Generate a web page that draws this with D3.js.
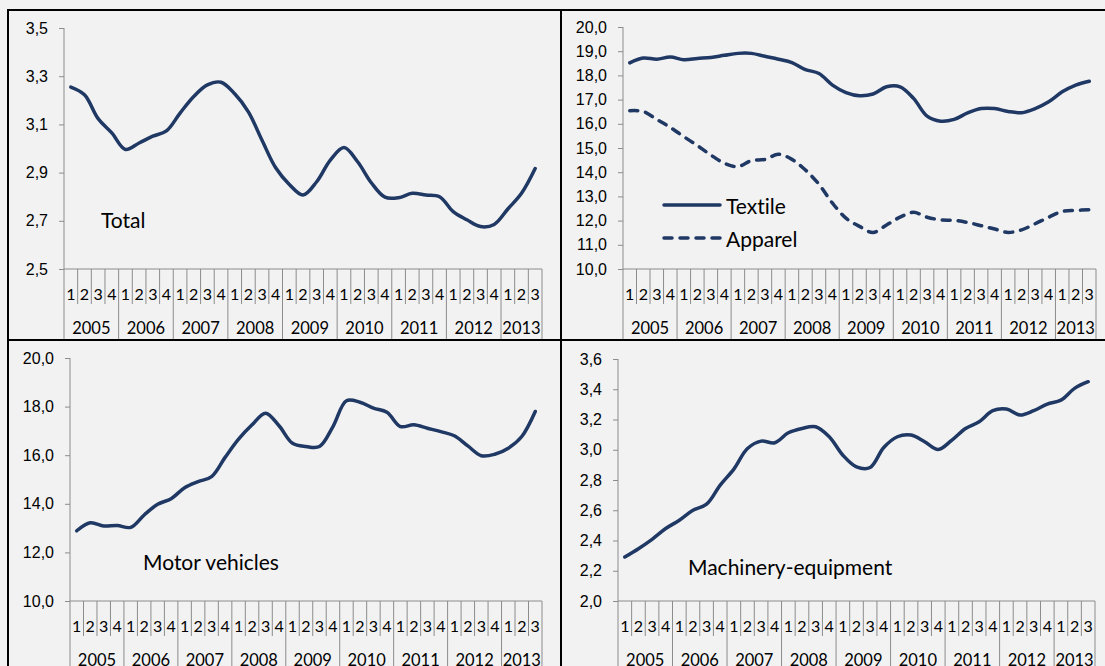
<!DOCTYPE html>
<html>
<head>
<meta charset="utf-8">
<script src="https://cdn.jsdelivr.net/npm/d3@7"></script>
<style>
  body { margin: 0; background: #f2f2f2; }
  svg { display: block; font-family: Lato, "Open Sans", sans-serif; font-variant-ligatures: none; }
  .axis path, .axis line { stroke: #8c8c8c; }
  .axis text { fill: #000; font-size: 16px; }
</style>
</head>
<body>
<div id="charts"></div>
<script>
// quarters 2005Q1 .. 2013Q3
var years = [2005, 2006, 2007, 2008, 2009, 2010, 2011, 2012, 2013];
var quartersPerYear = [4, 4, 4, 4, 4, 4, 4, 4, 3];

var totalShare = [3.255, 3.223, 3.124, 3.065, 2.996, 3.023, 3.051, 3.073, 3.147, 3.216,
  3.264, 3.275, 3.227, 3.152, 3.034, 2.920, 2.851, 2.807, 2.862, 2.952,
  3.004, 2.945, 2.858, 2.798, 2.796, 2.814, 2.807, 2.800, 2.738, 2.704,
  2.676, 2.685, 2.749, 2.814, 2.917];

var textileShare = [18.52, 18.72, 18.67, 18.76, 18.65, 18.70, 18.74, 18.83, 18.91, 18.91,
  18.79, 18.67, 18.53, 18.24, 18.08, 17.60, 17.29, 17.16, 17.23, 17.53,
  17.53, 17.05, 16.32, 16.11, 16.18, 16.45, 16.63, 16.63, 16.51, 16.46,
  16.63, 16.91, 17.32, 17.60, 17.76];

var apparelShare = [16.54, 16.51, 16.18, 15.85, 15.47, 15.10, 14.71, 14.37, 14.23, 14.48,
  14.53, 14.74, 14.53, 14.09, 13.50, 12.72, 12.10, 11.76, 11.51, 11.82,
  12.14, 12.34, 12.14, 12.03, 12.01, 11.92, 11.79, 11.65, 11.51, 11.62,
  11.87, 12.14, 12.38, 12.42, 12.45];

var motorShare = [12.89, 13.22, 13.09, 13.11, 13.03, 13.54, 13.98, 14.21, 14.66, 14.91,
  15.12, 15.91, 16.66, 17.25, 17.73, 17.21, 16.49, 16.36, 16.36, 17.18,
  18.24, 18.18, 17.94, 17.77, 17.18, 17.25, 17.11, 16.97, 16.80, 16.38,
  15.98, 16.04, 16.29, 16.77, 17.80];

var machineryShare = [2.291, 2.346, 2.408, 2.479, 2.534, 2.600, 2.640, 2.766, 2.872, 3.008,
  3.057, 3.046, 3.112, 3.141, 3.152, 3.086, 2.964, 2.887, 2.883, 3.015,
  3.086, 3.097, 3.053, 3.002, 3.064, 3.141, 3.185, 3.258, 3.269, 3.229,
  3.258, 3.302, 3.328, 3.406, 3.450];

// category list built from years and quarters
var categories = [];
years.forEach((y, i) => {
  for (let q = 1; q <= quartersPerYear[i]; ++q) categories.push({year: y, q: q, key: y + "Q" + q});
});

var locale = d3.formatLocale({decimal: ",", thousands: ".", grouping: [3], currency: ["", ""]});
var fmt = locale.format(".1f");

var W = 1105, H = 666;
var lineColor = "#1f3864";

var svg = d3.select("#charts").append("svg")
  .attr("width", W)
  .attr("height", H);

svg.append("rect").attr("width", W).attr("height", H).attr("fill", "#f2f2f2");

function drawPanel(p)
{
  var x = d3.scaleBand().domain(categories.map(d => d.key)).range([p.left, p.right]);
  var y = d3.scaleLinear().domain(p.domain).range([p.bottom, p.top]);

  var ticks = d3.range(p.domain[0], p.domain[1] + p.step / 2, p.step);

  var g = svg.append("g");

  // y axis
  g.append("g")
    .attr("class", "axis")
    .attr("transform", "translate(" + p.left + ",0)")
    .call(d3.axisLeft(y).tickValues(ticks).tickFormat(fmt).tickSize(5).tickPadding(11))
    .call(a => a.select(".domain").attr("d", "M0," + p.top + "V" + p.bottom));

  // x axis line
  g.append("line")
    .attr("x1", p.left).attr("x2", p.right)
    .attr("y1", p.bottom).attr("y2", p.bottom)
    .attr("stroke", "#8c8c8c");

  // quarter separators
  var bw = x.bandwidth();
  g.selectAll(".qsep").data(categories)
    .enter().append("line")
    .attr("x1", d => x(d.key)).attr("x2", d => x(d.key))
    .attr("y1", p.bottom)
    .attr("y2", d => d.q == 1 ? p.edge : p.bottom + 35)
    .attr("stroke", "#8c8c8c");
  g.append("line")
    .attr("x1", p.right).attr("x2", p.right)
    .attr("y1", p.bottom).attr("y2", p.edge)
    .attr("stroke", "#8c8c8c");

  // quarter labels
  g.selectAll(".ql").data(categories)
    .enter().append("text")
    .attr("x", d => x(d.key) + bw / 2)
    .attr("y", p.bottom + 24)
    .attr("text-anchor", "middle")
    .attr("dominant-baseline", "central")
    .style("font-size", "16px")
    .text(d => d.q);

  // year labels
  g.selectAll(".yl").data(years)
    .enter().append("text")
    .attr("x", (d, i) => {
      var first = x(d + "Q1");
      return first + bw * quartersPerYear[i] / 2;
    })
    .attr("y", p.bottom + 59)
    .attr("text-anchor", "middle")
    .attr("dominant-baseline", "central")
    .style("font-size", "16.5px")
    .text(d => d);

  var valueline = d3.line()
    .x((d, i) => x(categories[i].key) + bw / 2)
    .y(d => y(d))
    .curve(d3.curveCatmullRom);

  p.series.forEach(s => {
    g.append("path")
      .datum(s.values)
      .attr("fill", "none")
      .attr("stroke", lineColor)
      .attr("stroke-width", 3.5)
      .attr("stroke-linejoin", "round")
      .attr("stroke-linecap", "round")
      .attr("stroke-dasharray", s.dash || null)
      .attr("d", valueline);
  });

  if (p.label) {
    g.append("text")
      .attr("x", p.label.x).attr("y", p.label.y)
      .attr("dominant-baseline", "central")
      .style("font-size", "21px")
      .text(p.label.text);
  }

  if (p.legend) {
    p.legend.forEach(l => {
      g.append("line")
        .attr("x1", l.x).attr("x2", l.x + 56)
        .attr("y1", l.y).attr("y2", l.y)
        .attr("stroke", lineColor)
        .attr("stroke-width", 3.5)
        .attr("stroke-linecap", "round")
        .attr("stroke-dasharray", l.dash || null);
      g.append("text")
        .attr("x", l.x + 62).attr("y", l.y)
        .attr("dominant-baseline", "central")
        .style("font-size", "21px")
        .text(l.text);
    });
  }
}

drawPanel({left: 64, right: 542, top: 28, bottom: 269, edge: 340, domain: [2.5, 3.5], step: 0.2,
  series: [{values: totalShare}], label: {x: 101, y: 219, text: "Total"}});

drawPanel({left: 623, right: 1096, top: 27, bottom: 269, edge: 340, domain: [10, 20], step: 1,
  series: [{values: textileShare}, {values: apparelShare, dash: "8,8"}],
  legend: [{x: 664, y: 205, text: "Textile"}, {x: 664, y: 238, text: "Apparel", dash: "8,8"}]});

drawPanel({left: 70, right: 542, top: 358, bottom: 601, edge: 670, domain: [10, 20], step: 2,
  series: [{values: motorShare}], label: {x: 143, y: 561, text: "Motor vehicles"}});

drawPanel({left: 618, right: 1095, top: 359, bottom: 601, edge: 670, domain: [2, 3.6], step: 0.2,
  series: [{values: machineryShare}], label: {x: 688, y: 566, text: "Machinery-equipment"}});

// panel borders
var border = svg.append("g").attr("stroke", "#000").attr("stroke-width", 2);
border.append("line").attr("x1", 7).attr("x2", W).attr("y1", 10).attr("y2", 10);
border.append("line").attr("x1", 7).attr("x2", W).attr("y1", 340).attr("y2", 340);
border.append("line").attr("x1", 8).attr("x2", 8).attr("y1", 10).attr("y2", H);
border.append("line").attr("x1", 561).attr("x2", 561).attr("y1", 10).attr("y2", H);
</script>
</body>
</html>
